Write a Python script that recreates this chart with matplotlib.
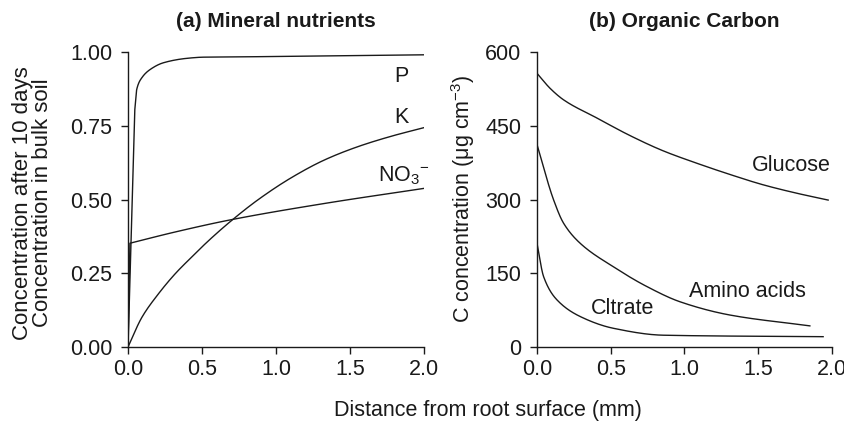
import numpy as np
import matplotlib
matplotlib.use("Agg")
import matplotlib.pyplot as plt

plt.rcParams['font.family'] = ['Liberation Sans', 'DejaVu Sans']
plt.rcParams['mathtext.fontset'] = 'custom'
plt.rcParams['mathtext.rm'] = 'Liberation Sans'
plt.rcParams['mathtext.it'] = 'Liberation Sans:italic'
plt.rcParams['mathtext.bf'] = 'Liberation Sans:bold'

# (a) mineral nutrients, conc. after 10 days / conc. in bulk soil
p_x = [0.0, 0.045, 0.059, 0.093, 0.149, 0.239, 0.397, 0.51, 0.76, 1.4, 2.0]
p_y = [0.0, 0.80, 0.874, 0.913, 0.941, 0.964, 0.979, 0.983, 0.984, 0.988, 0.991]
k_x = [0.0, 0.093, 0.205, 0.318, 0.43, 0.543, 0.69, 0.88, 1.106, 1.33, 1.556, 1.78, 2.0]
k_y = [0.0, 0.100, 0.180, 0.248, 0.305, 0.360, 0.425, 0.500, 0.575, 0.635, 0.680, 0.715, 0.744]
no3_x = [0.0, 0.013, 0.318, 0.69, 1.33, 2.0]
no3_y = [0.0, 0.352, 0.390, 0.431, 0.487, 0.538]

# (b) organic carbon, ug cm-3
glu_x = [0.0, 0.09, 0.18, 0.406, 0.632, 0.857, 1.083, 1.309, 1.534, 1.76, 1.974]
glu_y = [557, 526, 503, 466, 430, 399, 374, 351, 330, 313, 299]
amino_x = [0.0, 0.113, 0.18, 0.293, 0.519, 0.745, 0.97, 1.309, 1.85]
amino_y = [412, 299, 252, 211, 163, 123, 92, 65, 43]
cit_x = [0.0, 0.045, 0.135, 0.293, 0.519, 0.857, 1.94]
cit_y = [211, 143, 96, 62, 38, 24, 21]

def smooth(x, y, riser=False):
    # monotone cubic through the read points; riser keeps the first
    # segment (the jump at the root surface) straight
    x = np.asarray(x, float); y = np.asarray(y, float)
    head_x, head_y = [], []
    if riser:
        head_x, head_y = [x[0]], [y[0]]
        x, y = x[1:], y[1:]
    h = np.diff(x); d = np.diff(y) / h
    m = np.zeros_like(y)
    m[0] = d[0]; m[-1] = d[-1]
    for i in range(1, len(x) - 1):
        if d[i-1] * d[i] > 0:
            w1 = 2*h[i] + h[i-1]; w2 = h[i] + 2*h[i-1]
            m[i] = (w1 + w2) / (w1/d[i-1] + w2/d[i])
    xs, ys = [np.array(head_x)], [np.array(head_y)]
    t = np.linspace(0, 1, 30)
    for i in range(len(x) - 1):
        h00 = 2*t**3 - 3*t**2 + 1; h10 = t**3 - 2*t**2 + t
        h01 = -2*t**3 + 3*t**2; h11 = t**3 - t**2
        xs.append(x[i] + t*h[i])
        ys.append(h00*y[i] + h10*h[i]*m[i] + h01*y[i+1] + h11*h[i]*m[i+1])
    return np.concatenate(xs), np.concatenate(ys)

ink = '#1a1a1a'
line_kw = dict(color=ink, lw=1.0)
fs = 15.5

fig = plt.figure(figsize=(8.45, 4.24), dpi=100)
ax1 = fig.add_axes([0.1515, 0.1816, 0.3503, 0.6954])
ax2 = fig.add_axes([0.6355, 0.1816, 0.3491, 0.6954])

ax1.plot(*smooth(p_x, p_y, riser=True), **line_kw)
ax1.plot(*smooth(k_x, k_y), **line_kw)
ax1.plot(*smooth(no3_x, no3_y, riser=True), **line_kw)
for x, y in [(glu_x, glu_y), (amino_x, amino_y), (cit_x, cit_y)]:
    ax2.plot(*smooth(x, y), **line_kw)

ax1.set_xlim(0, 2.0); ax1.set_ylim(0, 1.0)
ax1.set_xticks([0.0, 0.5, 1.0, 1.5, 2.0])
ax1.set_yticks([0.0, 0.25, 0.5, 0.75, 1.0])
ax1.set_yticklabels(['0.00', '0.25', '0.50', '0.75', '1.00'])
ax2.set_xlim(0, 2.0); ax2.set_ylim(0, 600)
ax2.set_xticks([0.0, 0.5, 1.0, 1.5, 2.0])
ax2.set_yticks([0, 150, 300, 450, 600])

for ax in (ax1, ax2):
    for s in ('top', 'right'):
        ax.spines[s].set_visible(False)
    for s in ('left', 'bottom'):
        ax.spines[s].set_linewidth(1.0)
        ax.spines[s].set_color(ink)
    ax.tick_params(direction='out', length=5, width=1.0, labelsize=fs, colors=ink)
    ax.tick_params(axis='y', pad=6.5)
    ax.tick_params(axis='x', pad=3.5)
    ax.xaxis.set_major_formatter(matplotlib.ticker.FormatStrFormatter('%.1f'))

ax1.set_title('(a) Mineral nutrients', fontsize=15, fontweight='bold', pad=18, color=ink)
ax2.set_title('(b) Organic Carbon', fontsize=15, fontweight='bold', pad=18, color=ink)
fig.text(0.0385, 0.521, 'Concentration after 10 days\nConcentration in bulk soil',
         fontsize=16, rotation=90, ha='center', va='center', linespacing=0.95,
         multialignment='center', color=ink)
fig.text(0.548, 0.531, 'C concentration (\u03bcg cm$^{-3}$)', fontsize=fs,
         rotation=90, ha='center', va='center', color=ink)
fig.text(0.577, 0.031, 'Distance from root surface (mm)', fontsize=fs,
         ha='center', va='center', color=ink)

ax1.text(1.85, 0.919, 'P', fontsize=fs, ha='center', va='center', color=ink)
ax1.text(1.85, 0.778, 'K', fontsize=fs, ha='center', va='center', color=ink)
ax1.text(1.689, 0.562, 'NO$_3$$^{-}$', fontsize=fs, ha='left', va='baseline', color=ink)
ax2.text(1.726, 370, 'Glucose', fontsize=fs, ha='center', va='center', color=ink)
ax2.text(1.427, 112.5, 'Amino acids', fontsize=fs, ha='center', va='center', color=ink)
ax2.text(0.583, 78.7, 'Cltrate', fontsize=fs, ha='center', va='center', color=ink)

fig.savefig('out.png', dpi=100)
plt.close(fig)
